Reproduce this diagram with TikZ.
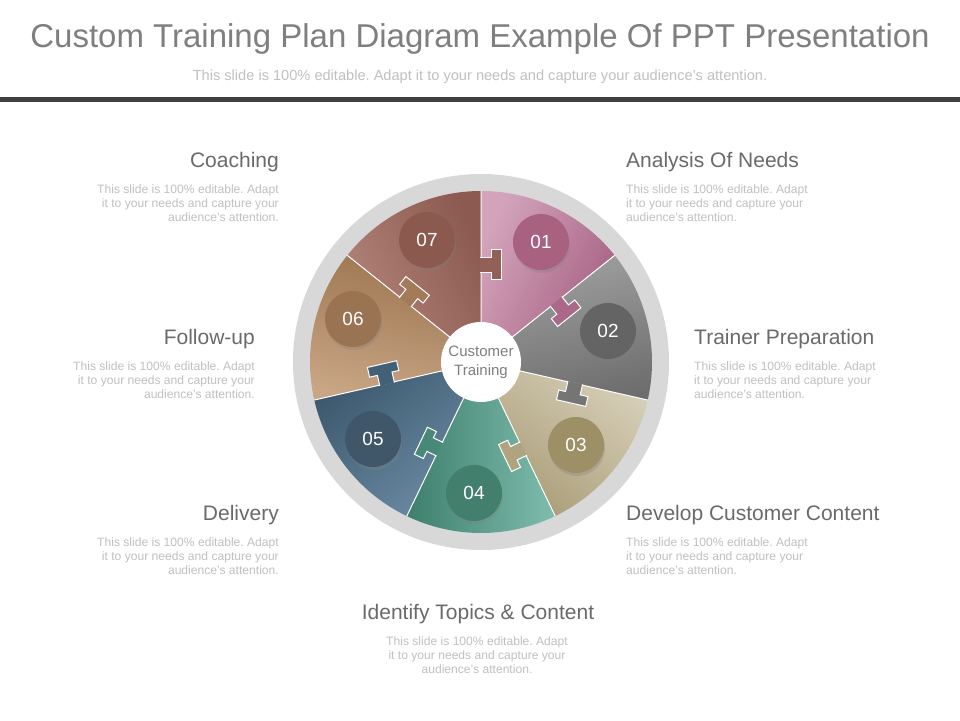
\documentclass[tikz,border=0pt]{standalone}
\usepackage{fontspec}
\setmainfont{Liberation Sans}
\usetikzlibrary{shadows}
\frenchspacing
\definecolor{titlegray}{HTML}{7F7F7F}
\definecolor{labelgray}{HTML}{6A6A6A}
\definecolor{descgray}{HTML}{C0C0C0}
\definecolor{bargray}{HTML}{404040}
\definecolor{ringgray}{HTML}{D8D8D8}
\definecolor{lite1}{HTML}{D3A3BB}
\definecolor{dark1}{HTML}{A45E80}
\definecolor{lite2}{HTML}{A0A0A0}
\definecolor{dark2}{HTML}{6E6E6E}
\definecolor{lite3}{HTML}{D6CEB8}
\definecolor{dark3}{HTML}{A99C76}
\definecolor{lite4}{HTML}{7FBDAE}
\definecolor{dark4}{HTML}{3E7F6C}
\definecolor{lite5}{HTML}{6C8BA3}
\definecolor{dark5}{HTML}{3C596E}
\definecolor{lite6}{HTML}{C8A584}
\definecolor{dark6}{HTML}{9C7450}
\definecolor{lite7}{HTML}{B3857A}
\definecolor{dark7}{HTML}{8C5A50}
\definecolor{num1}{HTML}{A8627F}
\definecolor{num2}{HTML}{646464}
\definecolor{num3}{HTML}{9D9066}
\definecolor{num4}{HTML}{437F6D}
\definecolor{num5}{HTML}{3F5769}
\definecolor{num6}{HTML}{9A7352}
\definecolor{num7}{HTML}{8C594E}

\begin{document}
\begin{tikzpicture}[x=1pt, y=1pt,
    seam/.style={draw=white, line width=1pt},
    heading/.style={font=\fontsize{21}{24}\selectfont, text=labelgray, inner sep=0pt},
    blurb/.style={font=\fontsize{12.1}{14}\selectfont, text=descgray, inner sep=0pt},
    badge/.style={circle, minimum size=56pt, inner sep=0pt, text=white,
      font=\fontsize{19}{19}\selectfont,
      drop shadow={shadow xshift=1pt, shadow yshift=-3pt, opacity=0.3}}]
    \useasboundingbox (0,0) rectangle (960,720);
    \fill[white] (0,0) rectangle (960,720);
    % header
    \node[font=\fontsize{33}{36}\selectfont, text=titlegray, anchor=base, inner sep=0pt] (title) at (480,672)
      {Custom Training Plan Diagram Example Of PPT Presentation};
    \node[font=\fontsize{14.6}{16}\selectfont, text=descgray, anchor=base, inner sep=0pt] (subtitle) at (480,639)
      {This slide is 100\% editable. Adapt it to your needs and capture your audience's attention.};
    \fill[bargray] (0,618) rectangle (960,623);
    % wheel
    \begin{scope}[shift={(481,358)}]
      \fill[ringgray] (0,0) circle[radius=188pt];
      \shade[top color=lite1, bottom color=dark1, shading angle=64.286] (0,0) -- (90:171) arc[start angle=90, end angle=38.571, radius=171pt] -- cycle;
      \shade[top color=lite2, bottom color=dark2, shading angle=12.857] (0,0) -- (38.571:171) arc[start angle=38.571, end angle=-12.857, radius=171pt] -- cycle;
      \shade[top color=lite3, bottom color=dark3, shading angle=-38.571] (0,0) -- (-12.857:171) arc[start angle=-12.857, end angle=-64.286, radius=171pt] -- cycle;
      \shade[top color=lite4, bottom color=dark4, shading angle=-90] (0,0) -- (-64.286:171) arc[start angle=-64.286, end angle=-115.714, radius=171pt] -- cycle;
      \shade[top color=lite5, bottom color=dark5, shading angle=-141.429] (0,0) -- (-115.714:171) arc[start angle=-115.714, end angle=-167.143, radius=171pt] -- cycle;
      \shade[top color=lite6, bottom color=dark6, shading angle=167.143] (0,0) -- (-167.143:171) arc[start angle=-167.143, end angle=-218.571, radius=171pt] -- cycle;
      \shade[top color=lite7, bottom color=dark7, shading angle=115.714] (0,0) -- (141.429:171) arc[start angle=141.429, end angle=90, radius=171pt] -- cycle;
      \draw[seam] (0,0) -- (90:171) (0,0) -- (38.571:171) (0,0) -- (-12.857:171)
        (0,0) -- (-64.286:171) (0,0) -- (-115.714:171) (0,0) -- (-167.143:171) (0,0) -- (141.429:171);
      % puzzle tabs
      \path[fill=dark7!85!lite7, seam, rotate=90] (89,0.8) -- (89,-10) -- (82,-10) -- (82,-20) -- (112,-20) -- (112,-10) -- (104,-10) -- (104,0.8);
      \path[fill=dark1!85!lite1, seam, rotate=38.571] (89,0.8) -- (89,-10) -- (82,-10) -- (82,-20) -- (112,-20) -- (112,-10) -- (104,-10) -- (104,0.8);
      \path[fill=dark2!85!lite2, seam, rotate=-12.857] (89,0.8) -- (89,-10) -- (82,-10) -- (82,-20) -- (112,-20) -- (112,-10) -- (104,-10) -- (104,0.8);
      \path[fill=dark3!85!lite3, seam, rotate=-64.286] (89,0.8) -- (89,-10) -- (82,-10) -- (82,-20) -- (112,-20) -- (112,-10) -- (104,-10) -- (104,0.8);
      \path[fill=dark4!85!lite4, seam, rotate=-115.714] (89,0.8) -- (89,-10) -- (82,-10) -- (82,-20) -- (112,-20) -- (112,-10) -- (104,-10) -- (104,0.8);
      \path[fill=dark5!85!lite5, seam, rotate=-167.143] (89,0.8) -- (89,-10) -- (82,-10) -- (82,-20) -- (112,-20) -- (112,-10) -- (104,-10) -- (104,0.8);
      \path[fill=dark6!85!lite6, seam, rotate=141.429] (89,0.8) -- (89,-10) -- (82,-10) -- (82,-20) -- (112,-20) -- (112,-10) -- (104,-10) -- (104,0.8);
      % hub and badges
      \node[circle, fill=white, minimum size=80pt, inner sep=0pt, text=titlegray, align=center,
        font=\fontsize{15}{19}\selectfont] (hub) at (0,0) {Customer\\Training};
      \node[badge, fill=num1] (n1) at (60,120) {01};
      \node[badge, fill=num2] (n2) at (127,31) {02};
      \node[badge, fill=num3] (n3) at (95,-83) {03};
      \node[badge, fill=num4] (n4) at (-7,-131) {04};
      \node[badge, fill=num5] (n5) at (-108,-77) {05};
      \node[badge, fill=num6] (n6) at (-128,43) {06};
      \node[badge, fill=num7] (n7) at (-54,122) {07};
    \end{scope}
    % labels
    \node[heading, anchor=base east] (lab7) at (279,552.7) {Coaching};
    \node[blurb, anchor=north east, align=right] (txt7) at (279,535.8)
      {This slide is 100\% editable. Adapt\\it to your needs and capture your\\audience's attention.};
    \node[heading, anchor=base west] (lab1) at (626,552.7) {Analysis Of Needs};
    \node[blurb, anchor=north west, align=left] (txt1) at (626,535.8)
      {This slide is 100\% editable. Adapt\\it to your needs and capture your\\audience's attention.};
    \node[heading, anchor=base east] (lab6) at (255,375.5) {Follow-up};
    \node[blurb, anchor=north east, align=right] (txt6) at (255,358.6)
      {This slide is 100\% editable. Adapt\\it to your needs and capture your\\audience's attention.};
    \node[heading, anchor=base west] (lab2) at (694,375.5) {Trainer Preparation};
    \node[blurb, anchor=north west, align=left] (txt2) at (694,358.6)
      {This slide is 100\% editable. Adapt\\it to your needs and capture your\\audience's attention.};
    \node[heading, anchor=base east] (lab5) at (279,199.5) {Delivery};
    \node[blurb, anchor=north east, align=right] (txt5) at (279,182.6)
      {This slide is 100\% editable. Adapt\\it to your needs and capture your\\audience's attention.};
    \node[heading, anchor=base west] (lab3) at (626,199.5) {Develop Customer Content};
    \node[blurb, anchor=north west, align=left] (txt3) at (626,182.6)
      {This slide is 100\% editable. Adapt\\it to your needs and capture your\\audience's attention.};
    \node[heading, anchor=base] (lab4) at (478,100.5) {Identify Topics \& Content};
    \node[blurb, anchor=north, align=center] (txt4) at (477,83.6)
      {This slide is 100\% editable. Adapt\\it to your needs and capture your\\audience's attention.};
  \end{tikzpicture}
\end{document}
